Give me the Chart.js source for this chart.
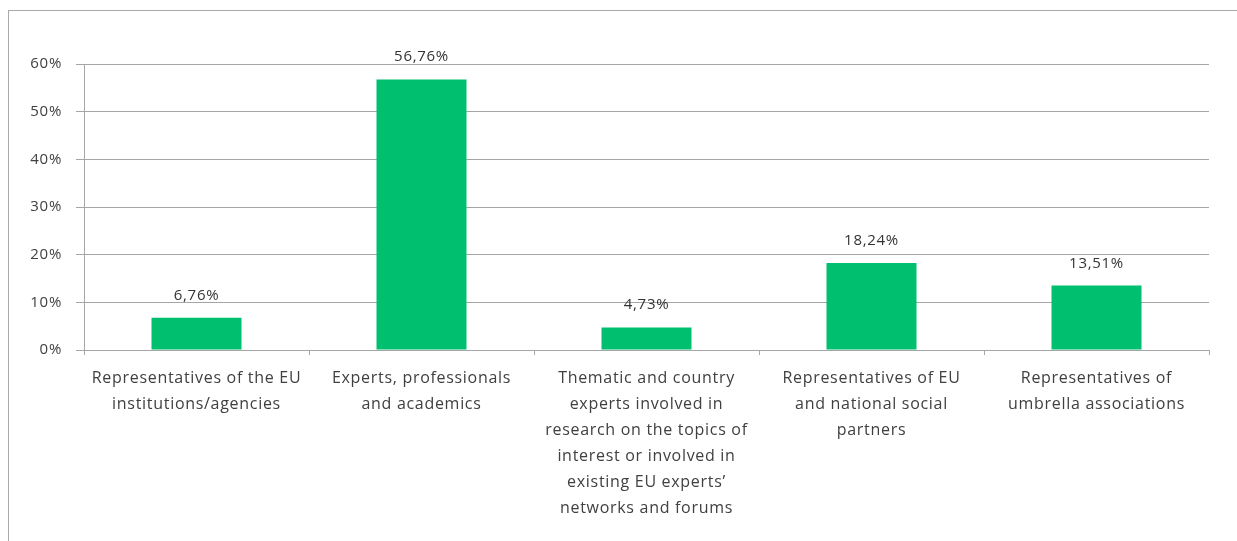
<!DOCTYPE html>
<html>
<head>
<meta charset="utf-8">
<script src="https://cdn.jsdelivr.net/npm/chart.js@4/dist/chart.umd.min.js"></script>
<style>
  html, body { margin: 0; padding: 0; background: #fff; overflow: hidden; }
  #wrap { position: relative; width: 1237px; height: 541px; }
  #frame {
    position: absolute; left: 8px; top: 10px; width: 1400px; height: 700px;
    border-left: 1px solid #a9a9a9; border-top: 1px solid #a9a9a9;
  }
  canvas { position: absolute; left: 0; top: 0; }
</style>
</head>
<body>
<div id="wrap">
  <div id="frame"></div>
  <canvas id="chart" width="1237" height="541"></canvas>
</div>
<script>
const categories = [
  ['Representatives of the EU', 'institutions/agencies'],
  ['Experts, professionals', 'and academics'],
  ['Thematic and country', 'experts involved in', 'research on the topics of', 'interest or involved in', 'existing EU experts\u2019', 'networks and forums'],
  ['Representatives of EU', 'and national social', 'partners'],
  ['Representatives of', 'umbrella associations'],
];
const shares = [6.76, 56.76, 4.73, 18.24, 13.51];
const yTicks = [0, 10, 20, 30, 40, 50, 60];

const GRID = '#a6a6a6';
const TEXT = '#404040';
const FONT = "'Open Sans', sans-serif";

// the original text is set a little wide, so spread the letters for every draw
const spacing = {
  id: 'spacing',
  beforeDraw(chart) {
    chart.ctx.letterSpacing = '0.7px';
  },
};

// value labels above the bars, decimal comma like the original
const valueLabels = {
  id: 'valueLabels',
  afterDatasetsDraw(chart) {
    const { ctx } = chart;
    const meta = chart.getDatasetMeta(0);
    ctx.save();
    ctx.font = `15px ${FONT}`;
    ctx.fillStyle = '#333';
    ctx.textAlign = 'center';
    ctx.textBaseline = 'alphabetic';
    meta.data.forEach((bar, i) => {
      const txt = shares[i].toFixed(2).replace('.', ',') + '%';
      ctx.fillText(txt, bar.x, bar.y - 18);
    });
    ctx.restore();
  },
};

new Chart(document.getElementById('chart').getContext('2d'), {
  type: 'bar',
  data: {
    labels: categories,
    datasets: [{
      data: shares,
      backgroundColor: '#00bf6f',
      barPercentage: 0.4,
      categoryPercentage: 1,
    }],
  },
  options: {
    responsive: false,
    animation: false,
    layout: { padding: { top: 64, right: 28, left: 0, bottom: 0 } },
    plugins: { legend: { display: false }, tooltip: { enabled: false } },
    scales: {
      x: {
        grid: { drawOnChartArea: false, drawTicks: true, tickLength: 5, color: GRID, offset: true },
        border: { color: GRID, width: 1 },
        ticks: {
          color: TEXT,
          font: { family: FONT, size: 16, lineHeight: '26px' },
          padding: 10,
          maxRotation: 0,
          autoSkip: false,
        },
        afterFit: (s) => { s.height = 191; },
      },
      y: {
        min: 0,
        max: 60,
        afterBuildTicks: (s) => { s.ticks = yTicks.map((v) => ({ value: v })); },
        grid: { color: GRID, tickLength: 8 },
        border: { color: GRID, width: 1 },
        ticks: {
          color: TEXT,
          font: { family: FONT, size: 15 },
          padding: 14,
          callback: (v) => v + '%',
        },
        afterFit: (s) => { s.width = 84; },
      },
    },
  },
  plugins: [spacing, valueLabels],
});
</script>
</body>
</html>
